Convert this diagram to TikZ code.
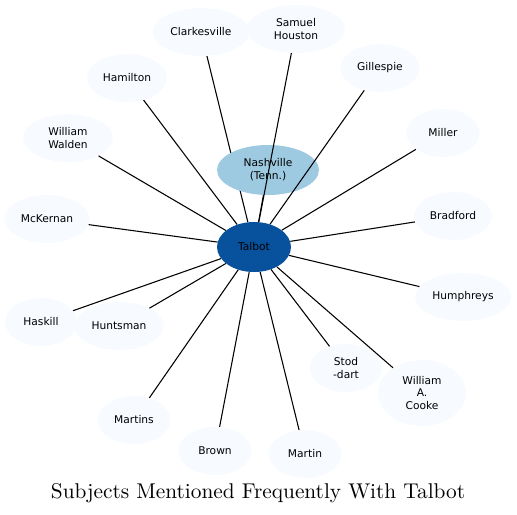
\documentclass[tikz,border=0pt]{standalone}
\usepackage{fontspec}
\newfontfamily\gvsans{DejaVu Sans}
\newfontfamily\gvserif{lmroman10-regular.otf}
\usepackage{tikz}
\usetikzlibrary{shapes.geometric}
\definecolor{tpale}{HTML}{F7FBFF}
\definecolor{tmid}{HTML}{9ECAE1}
\definecolor{tdark}{HTML}{08519C}
\tikzset{
  tsubj/.style={ellipse, fill=tpale, minimum height=36pt, inner sep=2pt,
                align=center, font=\gvsans\fontsize{8}{9.6}\selectfont},
  tplace/.style={tsubj, fill=tmid},
  tcentre/.style={tsubj, fill=tdark},
  tlink/.style={black, line width=0.8pt},
  ttitle/.style={font=\gvserif\fontsize{16}{19}\selectfont},
}

\begin{document}
\begin{tikzpicture}[x=0.75pt,y=-0.75pt]
  \useasboundingbox (0,0) rectangle (517,514);

  % subjects round the centre
  \foreach \n/\p/\w/\t in {clark/{201,32}/96/Clarkesville,
                           houston/{296,29}/98/{Samuel\\Houston},
                           gillespie/{380,68}/79/Gillespie,
                           hamilton/{127,78}/80/Hamilton,
                           walden/{68,138}/90/{William\\Walden},
                           miller/{443,133}/73/Miller,
                           mckernan/{47,219}/85/McKernan,
                           bradford/{453,216}/78/Bradford,
                           haskill/{41,322}/72/Haskill,
                           huntsman/{119,326}/89/Huntsman,
                           humphreys/{463,297}/96/Humphreys,
                           stoddart/{346,368}/72/{Stod\\-dart},
                           martins/{134,420}/73/Martins,
                           brown/{215,451}/73/Brown,
                           martin/{305,454}/73/Martin}
    \node[tsubj, minimum width=\w*0.75pt] (\n) at (\p) {\t};
  \node[tsubj, minimum width=88*0.75pt, minimum height=66*0.75pt] (cooke) at (422,393)
       {William\\A.\\Cooke};

  % centre
  \node[tcentre, minimum width=74*0.75pt, minimum height=50*0.75pt] (talbot) at (254,247) {Talbot};

  \draw[tlink] (talbot) -- (clark);
  \node[tplace, minimum width=102*0.75pt, minimum height=50*0.75pt] (nashville) at (268,170)
       {Nashville\\(Tenn.)};

  \foreach \n in {houston, nashville, gillespie, hamilton, walden, miller, mckernan,
                  bradford, haskill, huntsman, humphreys, stoddart, cooke,
                  martins, brown, martin}
    \draw[tlink] (talbot) -- (\n);

  \node[ttitle] (title) at (258,493) {Subjects Mentioned Frequently With Talbot};

\end{tikzpicture}
\end{document}
